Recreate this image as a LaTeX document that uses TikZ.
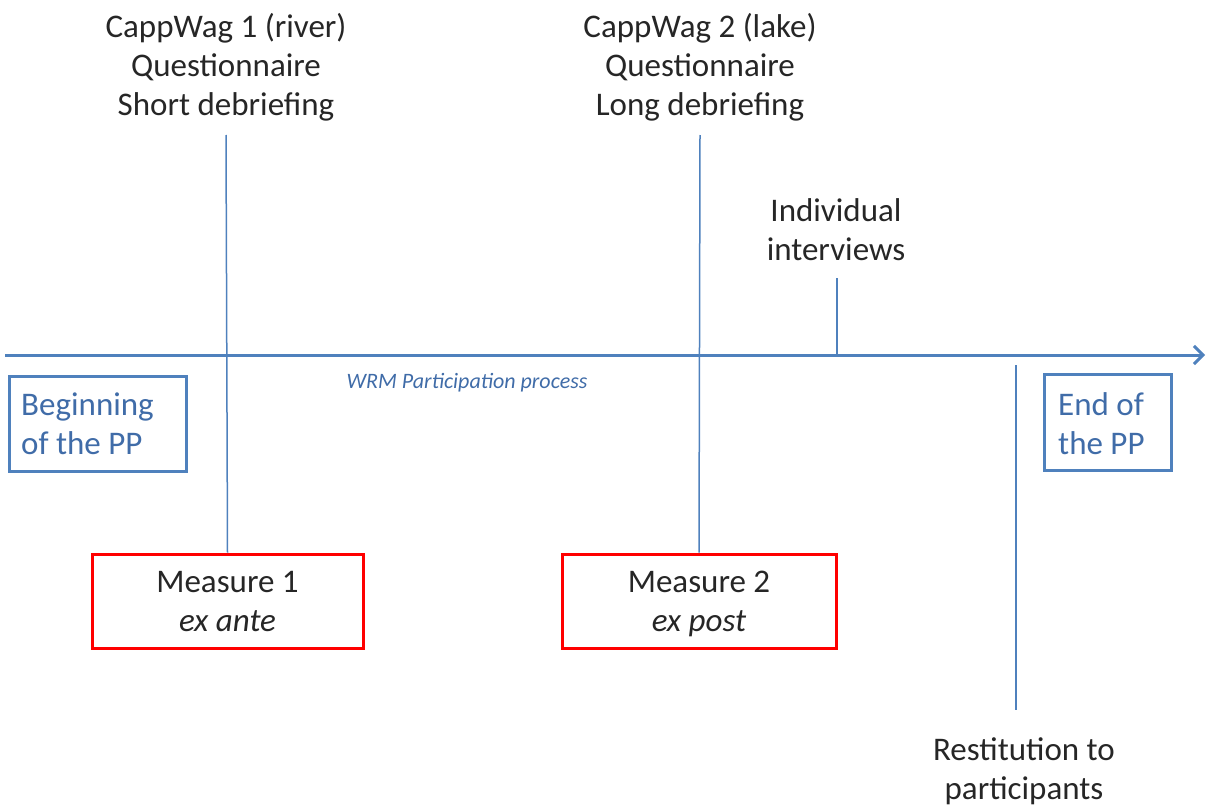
\documentclass[tikz,border=0pt]{standalone}
\usepackage{fontspec}
\setmainfont{Carlito}
\usetikzlibrary{arrows.meta}
\definecolor{lblue}{RGB}{79,129,189}
\definecolor{tblue}{RGB}{64,108,168}
\definecolor{mred}{RGB}{255,0,0}
\begin{document}
\begin{tikzpicture}[x=1pt,y=-1pt,
  txt/.style={font=\fontsize{33}{39}\selectfont, align=center, text=black!85, inner sep=0pt},
  bluebox/.style={draw=lblue, line width=3pt, inner sep=0pt},
  bluetxt/.style={font=\fontsize{33}{39}\selectfont, text=tblue, align=left, anchor=west, inner sep=0pt},
  redbox/.style={draw=mred, line width=3pt, inner sep=0pt},
  vline/.style={draw=lblue, line width=1.5pt},
  axis/.style={draw=lblue, line width=3pt, -{Straight Barb[length=9pt,width=18pt,line width=3pt]}}]
\useasboundingbox (0,0) rectangle (1207,808);
% main axis
\coordinate (axs) at (5,355);
\coordinate (axe) at (1205,355);
\draw[axis] (axs) -- (axe);
\node[font=\fontsize{22}{26}\selectfont\itshape, text=tblue] (wrm) at (467,383) {WRM Participation process};
% boxes
\node[bluebox, minimum width=177pt, minimum height=95pt] (beg) at (97.5,423.5) {};
\node[bluetxt] (begt) at (21,424) {Beginning\\of the PP};
\node[bluebox, minimum width=127pt, minimum height=96pt] (end) at (1107.5,422) {};
\node[bluetxt] (endt) at (1058,424) {End of\\the PP};
\node[redbox, minimum width=271pt, minimum height=94pt] (m1) at (227.5,601) {};
\node[txt] (m1t) at (227.5,604) {Measure 1\\\textit{ex ante}\vphantom{p}};
\node[redbox, minimum width=274pt, minimum height=94pt] (m2) at (699,601) {};
\node[txt] (m2t) at (699,604) {Measure 2\\\textit{ex post}\vphantom{p}};
% top labels
\node[txt] (c1) at (226,67) {CappWag 1 (river)\\Questionnaire\\Short debriefing};
\node[txt] (c2) at (700,67) {CappWag 2 (lake)\\Questionnaire\\Long debriefing};
\node[txt] (ii) at (836,230) {Individual\\interviews};
\node[txt] (rp) at (1024,771) {Restitution to\\participants};
% vertical lines
\coordinate (v1t) at (226,135);
\coordinate (v2t) at (700,135);
\coordinate (iit) at (837,278);
\coordinate (iib) at (837,355);
\coordinate (rt) at (1016,365);
\coordinate (rb) at (1016,710);
\draw[vline] (v1t) -- (m1.north);
\draw[vline] (v2t) -- (m2.north);
\draw[vline] (iit) -- (iib);
\draw[vline] (rt) -- (rb);
\end{tikzpicture}
\end{document}
